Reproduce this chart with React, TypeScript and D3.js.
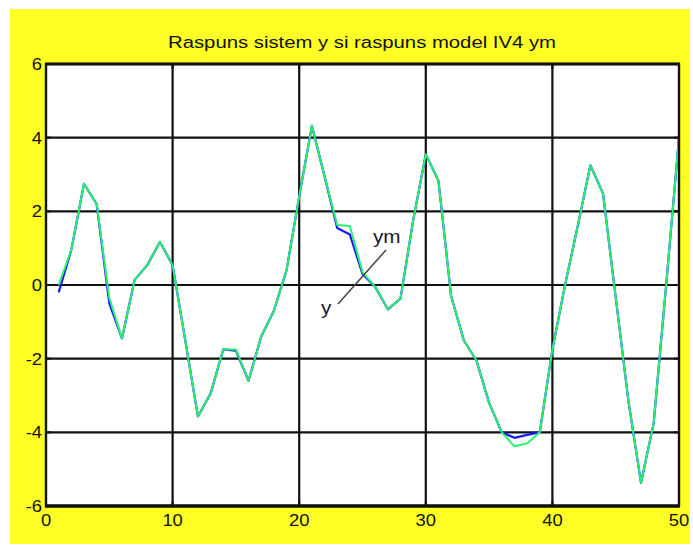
import React from "react";
import * as d3 from "d3";

// Sample index k = 1..50
const samples: number[] = d3.range(1, 51);

// Measured system response y
const ySystem: number[] = [
  -0.2, 0.95, 2.75, 2.2, -0.5, -1.45, 0.14, 0.54, 1.17, 0.54,
  -1.5, -3.57, -2.95, -1.75, -1.78, -2.6, -1.4, -0.7, 0.4, 2.4,
  4.32, 2.95, 1.55, 1.37, 0.3, -0.05, -0.66, -0.37, 1.75, 3.55,
  2.83, -0.3, -1.5, -2.05, -3.2, -4.0, -4.15, -4.07, -4.0, -1.75,
  0.0, 1.6, 3.25, 2.48, -0.33, -3.14, -5.37, -3.75, 0.05, 4.0,
];

// IV4 model response ym
const yModel: number[] = [
  0.0, 0.95, 2.75, 2.2, -0.35, -1.45, 0.14, 0.54, 1.17, 0.54,
  -1.5, -3.57, -2.95, -1.75, -1.75, -2.6, -1.4, -0.7, 0.4, 2.4,
  4.32, 2.95, 1.63, 1.6, 0.35, -0.05, -0.66, -0.37, 1.75, 3.55,
  2.83, -0.3, -1.5, -2.05, -3.2, -4.0, -4.38, -4.3, -4.0, -1.75,
  0.0, 1.6, 3.25, 2.48, -0.33, -3.14, -5.37, -3.75, 0.05, 4.0,
];

const xTicks: number[] = [0, 10, 20, 30, 40, 50];
const yTicks: number[] = [-6, -4, -2, 0, 2, 4, 6];

const titleText = "Raspuns sistem y si raspuns model IV4 ym";

const W = 693;
const H = 551;
const left = 46;
const right = 679;
const top = 64;
const bottom = 506;

export default function App() {
  const x = d3.scaleLinear().domain([0, 50]).range([left, right]);
  const y = d3.scaleLinear().domain([-6, 6]).range([bottom, top]);

  const line = d3
    .line<number>()
    .x((_, i) => x(samples[i]))
    .y((d) => y(d));

  const font = "'Liberation Sans', Arial, sans-serif";
  const sx = 1.15;

  return (
    <div style={{ position: "absolute", left: 0, top: 0 }}>
      <svg width={W} height={H} style={{ display: "block" }}>
        <rect x={0} y={0} width={W} height={H} fill="#ffffff" />
        <rect x={10} y={9} width={680} height={535} fill="#ffff26" />
        <rect x={left} y={top} width={right - left} height={bottom - top} fill="#ffffff" />

        {/* grid */}
        {xTicks.map((t) => (
          <line key={"gx" + t} x1={x(t)} x2={x(t)} y1={top} y2={bottom} stroke="#111" strokeWidth={2.2} />
        ))}
        {yTicks.map((t) => (
          <line key={"gy" + t} x1={left} x2={right} y1={y(t)} y2={y(t)} stroke="#111" strokeWidth={2.2} />
        ))}

        {/* series */}
        <path d={line(ySystem) || ""} fill="none" stroke="#1a1aff" strokeWidth={2.2} strokeLinejoin="round" />
        <path d={line(yModel) || ""} fill="none" stroke="#2af070" strokeWidth={2} strokeLinejoin="round" />

        {/* axes box */}
        <rect x={left} y={top} width={right - left} height={bottom - top} fill="none" stroke="#111" strokeWidth={2.2} />
        <line x1={left - 1} x2={right + 1} y1={top} y2={top} stroke="#111" strokeWidth={3} />
        <line x1={left - 1} x2={right + 1} y1={bottom} y2={bottom} stroke="#111" strokeWidth={3.5} />

        {/* ticks */}
        {xTicks.map((t) => (
          <g key={"tx" + t}>
            <line x1={x(t)} x2={x(t)} y1={bottom} y2={bottom - 5} stroke="#111" strokeWidth={2} />
            <line x1={x(t)} x2={x(t)} y1={top} y2={top + 5} stroke="#111" strokeWidth={2} />
          </g>
        ))}
        {yTicks.map((t) => (
          <g key={"ty" + t}>
            <line x1={left} x2={left + 5} y1={y(t)} y2={y(t)} stroke="#111" strokeWidth={2} />
            <line x1={right} x2={right - 5} y1={y(t)} y2={y(t)} stroke="#111" strokeWidth={2} />
          </g>
        ))}

        {/* tick labels */}
        {xTicks.map((t) => (
          <text
            key={"lx" + t}
            transform={`translate(${x(t)},${bottom + 20}) scale(${sx},1)`}
            textAnchor="middle"
            fontFamily={font}
            fontSize={16}
            fill="#111"
          >
            {t}
          </text>
        ))}
        {yTicks.map((t) => (
          <text
            key={"ly" + t}
            transform={`translate(${left - 4},${y(t) + 6}) scale(${sx},1)`}
            textAnchor="end"
            fontFamily={font}
            fontSize={16}
            fill="#111"
          >
            {t}
          </text>
        ))}

        {/* title */}
        <text
          x={362}
          y={48}
          textAnchor="middle"
          fontFamily={font}
          fontSize={16}
          textLength={388}
          lengthAdjust="spacingAndGlyphs"
          fill="#111"
        >
          {titleText}
        </text>

        {/* curve labels */}
        <line x1={338} y1={304} x2={386} y2={250} stroke="#444" strokeWidth={1.5} />
        <text transform={`translate(373,243) scale(${sx},1)`} fontFamily={font} fontSize={18} fill="#1a1430">
          ym
        </text>
        <text transform={`translate(321,314) scale(${sx},1)`} fontFamily={font} fontSize={18} fill="#1a1430">
          y
        </text>
      </svg>
    </div>
  );
}
